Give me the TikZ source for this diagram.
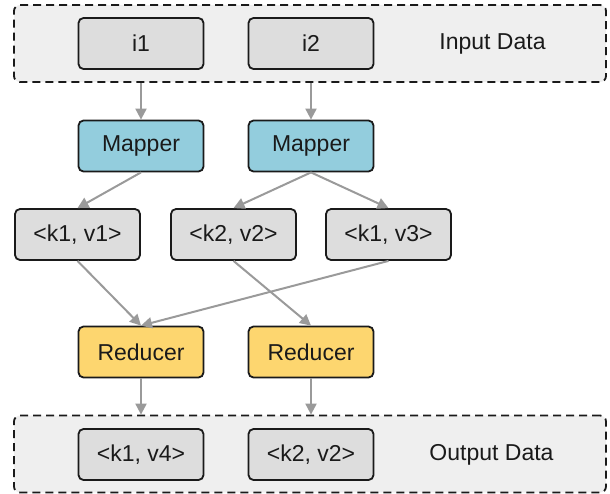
\documentclass[tikz,border=0pt]{standalone}
\usepackage{fontspec}
\setmainfont{Liberation Sans}
\usetikzlibrary{arrows.meta}
\definecolor{boxgray}{HTML}{DDDDDD}
\definecolor{contfill}{HTML}{EFEFEF}
\definecolor{mapblue}{HTML}{93CDDD}
\definecolor{redyellow}{HTML}{FDD66F}
\definecolor{arrowgray}{HTML}{9A9A9A}
\definecolor{inkcol}{HTML}{1A1A1A}
\begin{document}
\begin{tikzpicture}[x=0.5pt,y=-0.5pt,
  box/.style={draw=inkcol, line width=0.9pt, rounded corners=2.5pt, minimum width=62.5pt, minimum height=25.5pt, inner sep=0pt, font=\fontsize{11.5}{13}\selectfont, text=inkcol},
  databox/.style={box, fill=boxgray},
  mapbox/.style={box, fill=mapblue},
  redbox/.style={box, fill=redyellow},
  container/.style={draw=inkcol, dash pattern=on 4pt off 2.5pt, line width=0.9pt, fill=contfill, rounded corners=3pt, inner sep=0pt, minimum width=296pt, minimum height=38.5pt},
  conn/.style={draw=arrowgray, line width=1pt, -{Triangle[length=5.5pt,width=5.5pt]}},
  lbl/.style={font=\fontsize{11.5}{13}\selectfont, text=inkcol}]
\useasboundingbox (0,0) rectangle (610,493);
% containers
\node[container] (inbox) at (310,43.5) {};
\node[container] (outbox) at (310,454) {};
% input
\node[databox] (in1) at (141,43.5) {i1};
\node[databox] (in2) at (311,43.5) {i2};
\node[lbl] (inlbl) at (492.5,43.5) {Input Data};
% mappers
\node[mapbox] (m1) at (141,146) {Mapper};
\node[mapbox] (m2) at (311,146) {Mapper};
% intermediate pairs
\node[databox] (kv1) at (77.5,234.5) {<k1, v1>};
\node[databox] (kv2) at (233.5,234.5) {<k2, v2>};
\node[databox] (kv3) at (388.5,234.5) {<k1, v3>};
% reducers
\node[redbox] (r1) at (141,352) {Reducer};
\node[redbox] (r2) at (311,352) {Reducer};
% outputs
\node[databox] (o1) at (141,454.5) {<k1, v4>};
\node[databox] (o2) at (311,454.5) {<k2, v2>};
\node[lbl] (outlbl) at (491.5,454.5) {Output Data};
% connectors
\draw[conn] (in1 |- inbox.south) -- (m1.north);
\draw[conn] (in2 |- inbox.south) -- (m2.north);
\draw[conn] (m1.south) -- (kv1.north);
\draw[conn] (m2.south) -- (kv2.north);
\draw[conn] (m2.south) -- (kv3.north);
\draw[conn] (kv1.south) -- (r1.north);
\draw[conn] (kv2.south) -- (r2.north);
\draw[conn] (kv3.south) -- (r1.north);
\draw[conn] (r1.south) -- (r1 |- outbox.north);
\draw[conn] (r2.south) -- (r2 |- outbox.north);
\end{tikzpicture}
\end{document}
